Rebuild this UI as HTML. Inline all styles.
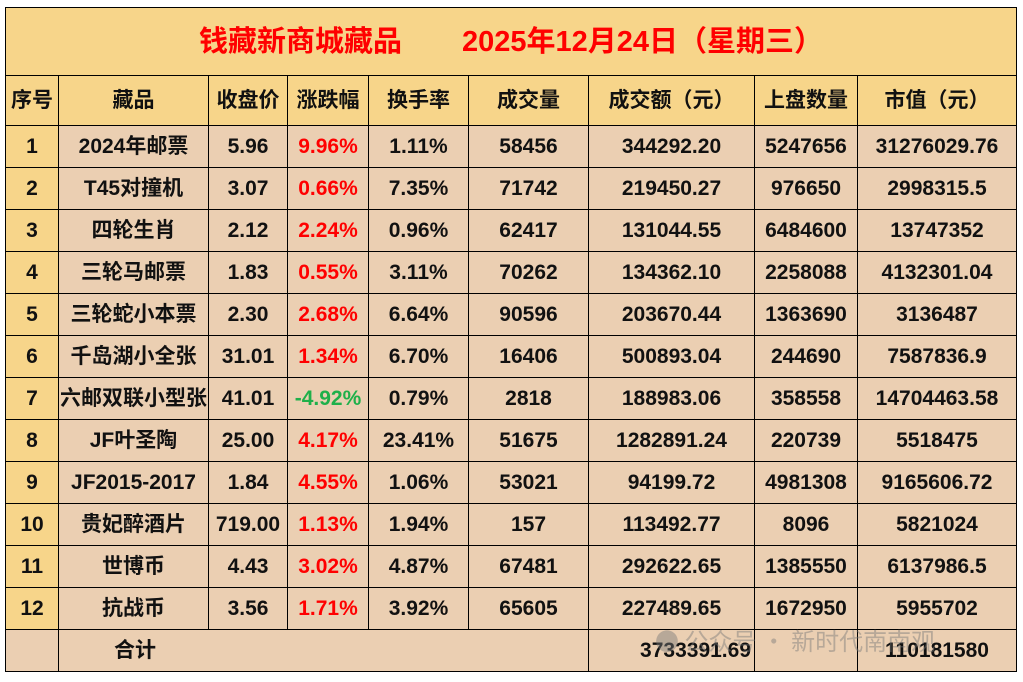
<!DOCTYPE html>
<html><head><meta charset="utf-8"><style>
body{margin:0;width:1023px;height:682px;background:#fff;overflow:hidden;position:relative;font-family:"Liberation Sans","Noto Sans CJK SC",sans-serif;}
table{position:absolute;left:5px;top:7px;border-collapse:collapse;table-layout:fixed;}
tr{height:42px;}
td{border:1.5px solid #000;padding:0;text-align:center;vertical-align:middle;font-weight:bold;font-size:21px;line-height:24px;color:#111;background:#ebcfb2;white-space:nowrap;overflow:hidden;}
tr.h{height:50px;}
tr.h td{background:#f7d58a;}
td.s{background:#f7d58a;}
.r{color:#f00}.g{color:#1fb04a}
tr.title{height:68px;}
.title td{background:#f7d58a;color:#f00;font-size:29px;line-height:32px;}
</style></head><body>
<table>
<colgroup><col style="width:53px"><col style="width:150px"><col style="width:79px"><col style="width:81px"><col style="width:100px"><col style="width:120px"><col style="width:166px"><col style="width:103px"><col style="width:159px"></colgroup>
<tr class="title"><td colspan="9"><span style="margin-right:60px">钱藏新商城藏品</span>2025年12月24日（星期三）</td></tr>
<tr class="h"><td>序号</td><td>藏品</td><td>收盘价</td><td>涨跌幅</td><td>换手率</td><td>成交量</td><td>成交额（元）</td><td>上盘数量</td><td>市值（元）</td></tr>
<tr><td class="s">1</td><td>2024年邮票</td><td>5.96</td><td class="r">9.96%</td><td>1.11%</td><td>58456</td><td>344292.20</td><td>5247656</td><td>31276029.76</td></tr>
<tr><td class="s">2</td><td>T45对撞机</td><td>3.07</td><td class="r">0.66%</td><td>7.35%</td><td>71742</td><td>219450.27</td><td>976650</td><td>2998315.5</td></tr>
<tr><td class="s">3</td><td>四轮生肖</td><td>2.12</td><td class="r">2.24%</td><td>0.96%</td><td>62417</td><td>131044.55</td><td>6484600</td><td>13747352</td></tr>
<tr><td class="s">4</td><td>三轮马邮票</td><td>1.83</td><td class="r">0.55%</td><td>3.11%</td><td>70262</td><td>134362.10</td><td>2258088</td><td>4132301.04</td></tr>
<tr><td class="s">5</td><td>三轮蛇小本票</td><td>2.30</td><td class="r">2.68%</td><td>6.64%</td><td>90596</td><td>203670.44</td><td>1363690</td><td>3136487</td></tr>
<tr><td class="s">6</td><td>千岛湖小全张</td><td>31.01</td><td class="r">1.34%</td><td>6.70%</td><td>16406</td><td>500893.04</td><td>244690</td><td>7587836.9</td></tr>
<tr><td class="s">7</td><td>六邮双联小型张</td><td>41.01</td><td class="g">-4.92%</td><td>0.79%</td><td>2818</td><td>188983.06</td><td>358558</td><td>14704463.58</td></tr>
<tr><td class="s">8</td><td>JF叶圣陶</td><td>25.00</td><td class="r">4.17%</td><td>23.41%</td><td>51675</td><td>1282891.24</td><td>220739</td><td>5518475</td></tr>
<tr><td class="s">9</td><td>JF2015-2017</td><td>1.84</td><td class="r">4.55%</td><td>1.06%</td><td>53021</td><td>94199.72</td><td>4981308</td><td>9165606.72</td></tr>
<tr><td class="s">10</td><td>贵妃醉酒片</td><td>719.00</td><td class="r">1.13%</td><td>1.94%</td><td>157</td><td>113492.77</td><td>8096</td><td>5821024</td></tr>
<tr><td class="s">11</td><td>世博币</td><td>4.43</td><td class="r">3.02%</td><td>4.87%</td><td>67481</td><td>292622.65</td><td>1385550</td><td>6137986.5</td></tr>
<tr><td class="s">12</td><td>抗战币</td><td>3.56</td><td class="r">1.71%</td><td>3.92%</td><td>65605</td><td>227489.65</td><td>1672950</td><td>5955702</td></tr>
<tr><td></td><td colspan="5" style="text-align:left;padding-left:55px">合计</td><td style="text-align:right;padding-right:3px">3733391.69</td><td></td><td>110181580</td></tr>
</table>
<div style="position:absolute;left:655px;top:622px;font-size:24px;color:rgba(120,120,120,0.45);font-family:'Noto Sans CJK SC',sans-serif;">● 公众号 · 新时代南南观</div>
</body></html>
